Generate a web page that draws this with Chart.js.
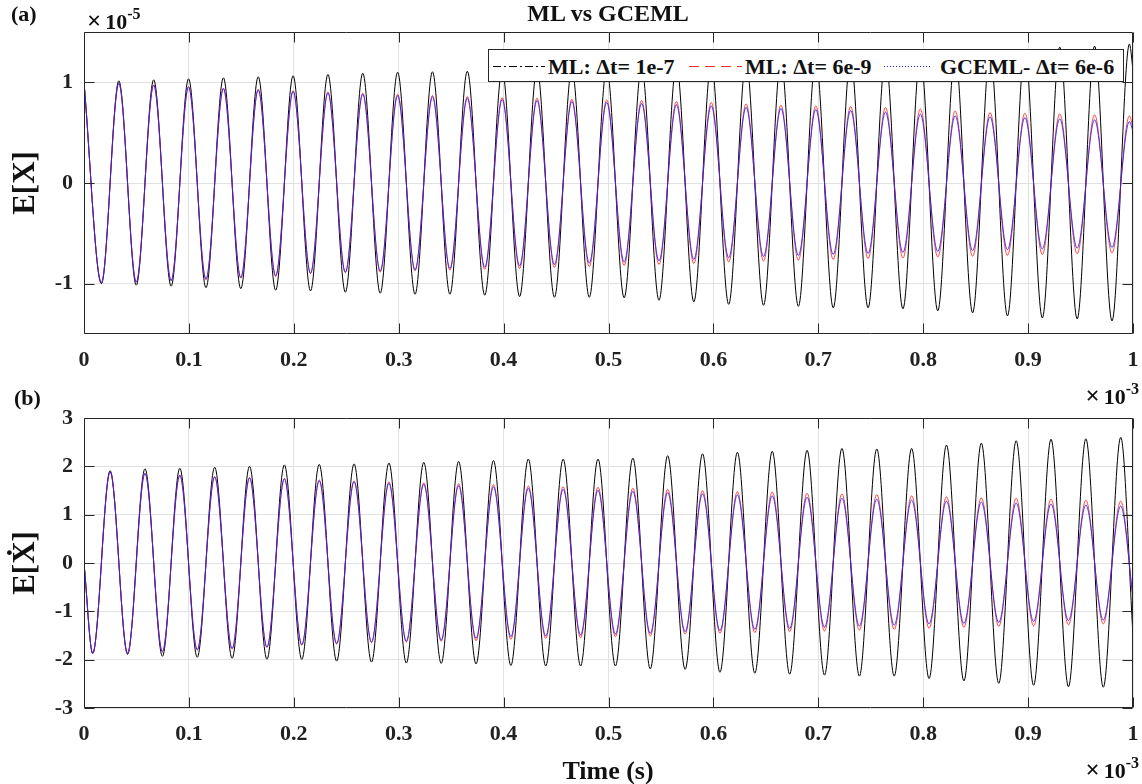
<!DOCTYPE html>
<html><head><meta charset="utf-8">
<script src="https://cdn.jsdelivr.net/npm/chart.js@4.4.1/dist/chart.umd.min.js"></script>
<style>
html,body{margin:0;padding:0;background:#fff;}
#wrap{position:relative;width:1142px;height:784px;overflow:hidden;font-family:"Liberation Serif","Times New Roman",serif;font-weight:bold;color:#111;}
canvas{position:absolute;left:0;}
.t{position:absolute;white-space:nowrap;line-height:1;}
.sup{font-size:16px;position:relative;top:-10px;}
.x{margin-right:4px;font-size:25px;}
#legend{position:absolute;left:488px;top:49px;width:634px;height:31px;border:1px solid #262626;background:#fff;}
#legend svg{position:absolute;top:0;}
</style></head><body><div id="wrap">
<canvas id="ca" width="1142" height="380" style="top:0"></canvas>
<canvas id="cb" width="1142" height="404" style="top:380px"></canvas>
<div class="t" style="left:608px;top:1px;font-size:24px;transform:translateX(-50%)">ML vs GCEML</div>
<div class="t" style="left:11px;top:3px;font-size:22px">(a)</div>
<div class="t" style="left:87px;top:8px;font-size:22px"><span class="x">×</span>10<span class="sup">-5</span></div>
<div class="t" style="left:23px;top:183px;font-size:31px;transform:translate(-50%,-50%) rotate(-90deg)">E[X]</div>
<div class="t" style="right:3px;top:383px;font-size:22px"><span class="x">×</span>10<span class="sup">-3</span></div>
<div class="t" style="left:14px;top:387px;font-size:22px">(b)</div>
<div class="t" style="left:23px;top:563px;font-size:31px;transform:translate(-50%,-50%) rotate(-90deg)">E[Ẋ]</div>
<div class="t" style="right:3px;top:757px;font-size:22px"><span class="x">×</span>10<span class="sup">-3</span></div>
<div class="t" style="left:608px;top:758px;font-size:26px;transform:translateX(-50%)">Time (s)</div>
<div id="legend">
  <svg style="left:4px" width="52" height="31"><line x1="0" y1="16.5" x2="52" y2="16.5" stroke="#000" stroke-width="1" stroke-dasharray="8,3,2,3"/></svg>
  <div class="t" style="left:59px;top:6px;font-size:22px">ML: Δt= 1e-7</div>
  <svg style="left:200px" width="53" height="31"><line x1="0" y1="16.5" x2="53" y2="16.5" stroke="#ff3030" stroke-width="1" stroke-dasharray="10,6"/></svg>
  <div class="t" style="left:256px;top:6px;font-size:22px">ML: Δt= 6e-9</div>
  <svg style="left:395px" width="48" height="31"><line x1="0" y1="16.5" x2="48" y2="16.5" stroke="#2020ff" stroke-width="1" stroke-dasharray="1,2"/></svg>
  <div class="t" style="left:451px;top:6px;font-size:22px">GCEML- Δt= 6e-6</div>
</div>
</div>
<script>
// ---- data ----
// x axis in units of 1e-3 s; extrema spaced by half a period (30 cycles over ~0.997e-3 s)
const HALF_PERIOD = 0.01661;
const xTicks = [0,0.1,0.2,0.3,0.4,0.5,0.6,0.7,0.8,0.9,1];
const xTickLabels = ['0','0.1','0.2','0.3','0.4','0.5','0.6','0.7','0.8','0.9','1'];
const yTicksA = [-1,0,1];
const yTickLabelsA = ['-1','0','1'];
const yTicksB = [-3,-2,-1,0,1,2,3];
const yTickLabelsB = ['-3','-2','-1','0','1','2','3'];

// Panel (a): E[X] (x1e-5), peaks at even half-periods, troughs at odd ones
const aBlackPeaks = [1.0,1.015,1.025,1.035,1.045,1.055,1.065,1.078,1.09,1.10,1.105,1.11,1.12,1.132,1.135,1.138,1.152,1.172,1.192,1.21,1.22,1.232,1.24,1.245,1.26,1.28,1.305,1.33,1.35,1.36,1.38];
const aBlackTroughs = [-1.0,-1.015,-1.025,-1.04,-1.05,-1.065,-1.072,-1.085,-1.095,-1.105,-1.105,-1.115,-1.128,-1.135,-1.135,-1.14,-1.165,-1.18,-1.205,-1.215,-1.225,-1.24,-1.24,-1.25,-1.27,-1.29,-1.32,-1.34,-1.35,-1.37];
const aRedPeaks = [1.0,0.99,0.975,0.958,0.942,0.932,0.918,0.905,0.893,0.882,0.87,0.86,0.849,0.843,0.833,0.826,0.82,0.81,0.80,0.786,0.773,0.766,0.76,0.75,0.735,0.716,0.70,0.693,0.687,0.677,0.667];
const aRedTroughs = [-0.99,-0.985,-0.97,-0.96,-0.945,-0.93,-0.90,-0.892,-0.885,-0.873,-0.866,-0.858,-0.849,-0.839,-0.83,-0.82,-0.81,-0.80,-0.785,-0.775,-0.767,-0.76,-0.75,-0.745,-0.735,-0.727,-0.718,-0.71,-0.703,-0.695];
const aBluePeaks = [1.0,0.99,0.972,0.955,0.937,0.925,0.91,0.895,0.882,0.868,0.855,0.843,0.83,0.82,0.81,0.80,0.79,0.778,0.766,0.752,0.74,0.73,0.72,0.705,0.684,0.667,0.657,0.65,0.637,0.627,0.61];
const aBlueTroughs = [-0.99,-0.985,-0.97,-0.955,-0.94,-0.92,-0.895,-0.885,-0.876,-0.863,-0.85,-0.836,-0.823,-0.809,-0.795,-0.785,-0.773,-0.76,-0.743,-0.73,-0.72,-0.71,-0.70,-0.69,-0.68,-0.672,-0.663,-0.655,-0.647,-0.64];
const aEnd = {black:1.12, red:0.55, blue:0.51};

// Panel (b): E[Xdot], starts at 0, troughs then peaks at (j+0.5) half-periods
const bBlackTroughs = [-1.87,-1.89,-1.93,-1.95,-1.97,-1.99,-1.994,-2.03,-2.05,-2.07,-2.077,-2.09,-2.12,-2.13,-2.13,-2.13,-2.19,-2.2,-2.26,-2.28,-2.30,-2.32,-2.34,-2.34,-2.39,-2.44,-2.49,-2.53,-2.56,-2.57];
const bBlackPeaks = [1.91,1.95,1.96,1.98,2.00,2.03,2.04,2.05,2.07,2.08,2.10,2.12,2.15,2.15,2.15,2.17,2.22,2.26,2.29,2.31,2.33,2.37,2.36,2.37,2.44,2.48,2.53,2.56,2.57,2.60];
const bRedTroughs = [-1.87,-1.87,-1.84,-1.80,-1.78,-1.75,-1.70,-1.677,-1.65,-1.635,-1.62,-1.608,-1.58,-1.56,-1.546,-1.525,-1.51,-1.47,-1.455,-1.44,-1.42,-1.408,-1.387,-1.373,-1.35,-1.33,-1.31,-1.30,-1.28,-1.26];
const bRedPeaks = [1.89,1.86,1.82,1.79,1.77,1.75,1.72,1.70,1.68,1.66,1.64,1.62,1.594,1.58,1.567,1.546,1.525,1.497,1.476,1.47,1.443,1.43,1.414,1.39,1.37,1.35,1.34,1.32,1.30,1.28];
const bBlueTroughs = [-1.87,-1.865,-1.835,-1.795,-1.77,-1.74,-1.69,-1.665,-1.635,-1.62,-1.594,-1.56,-1.525,-1.51,-1.49,-1.47,-1.455,-1.42,-1.40,-1.373,-1.353,-1.33,-1.304,-1.284,-1.26,-1.25,-1.23,-1.21,-1.19,-1.18];
const bBluePeaks = [1.89,1.855,1.815,1.78,1.76,1.74,1.70,1.68,1.65,1.63,1.60,1.575,1.546,1.525,1.505,1.484,1.455,1.43,1.408,1.387,1.36,1.34,1.32,1.30,1.28,1.26,1.24,1.22,1.20,1.18];
const bEnd = {black:-1.5, red:-0.76, blue:-0.7};

const seriesNames = ['ML: Δt= 1e-7','ML: Δt= 6e-9','GCEML- Δt= 6e-6'];
const colors = {black:'#000000', red:'rgba(255,40,40,0.85)', blue:'rgba(30,30,255,0.85)'};

// ---- assemble point lists (extrema; the library's monotone curve joins them) ----
function panelA(peaks, troughs, endVal){
  const pts = [];
  for (let k = 0; k < peaks.length; k++){
    pts.push({x: 2*k*HALF_PERIOD, y: peaks[k]});
    if (k < troughs.length) pts.push({x: (2*k+1)*HALF_PERIOD, y: troughs[k]});
  }
  pts.push({x: 1, y: endVal});
  return pts;
}
function panelB(troughs, peaks, endVal){
  const pts = [{x:0, y:0}];
  for (let k = 0; k < troughs.length; k++){
    pts.push({x: (2*k+0.5)*HALF_PERIOD, y: troughs[k]});
    pts.push({x: (2*k+1.5)*HALF_PERIOD, y: peaks[k]});
  }
  pts.push({x: 1, y: endVal});
  return pts;
}

const framePlugin = {
  id:'frame',
  afterDatasetsDraw(chart){
    const {ctx, chartArea:a, scales:{x, y}} = chart;
    ctx.save();
    ctx.strokeStyle = '#262626'; ctx.lineWidth = 1;
    const L = Math.round(a.left)+0.5, R = Math.round(a.right)-0.5, T = Math.round(a.top)+0.5, B = Math.round(a.bottom)-0.5;
    ctx.beginPath();
    ctx.rect(L, T, R-L, B-T);
    x.ticks.forEach(t => {
      const p = Math.round(x.getPixelForValue(t.value))+0.5;
      ctx.moveTo(p, B); ctx.lineTo(p, B-10);
      ctx.moveTo(p, T); ctx.lineTo(p, T+10);
    });
    y.ticks.forEach(t => {
      const p = Math.round(y.getPixelForValue(t.value))+0.5;
      ctx.moveTo(L, p); ctx.lineTo(L+10, p);
      ctx.moveTo(R, p); ctx.lineTo(R-10, p);
    });
    ctx.stroke();
    ctx.restore();
  }
};

const tickFont = {family:'"Liberation Serif", serif', size:22, weight:'bold'};

function makeChart(id, datasets, yTicks, yLabels, yMin, yMax, padTop, xScaleH){
  return new Chart(document.getElementById(id), {
    type:'line',
    data:{datasets},
    options:{
      responsive:false, animation:false, devicePixelRatio:1,
      parsing:false, normalized:true,
      layout:{padding:{left:0, right:9, top:padTop, bottom:0}},
      plugins:{legend:{display:false}, tooltip:{enabled:false}, title:{display:false}},
      elements:{point:{radius:0}, line:{borderWidth:1, cubicInterpolationMode:'monotone'}},
      scales:{
        x:{type:'linear', min:0, max:1,
          afterBuildTicks:s => { s.ticks = xTicks.map(v => ({value:v})); },
          afterFit:s => { s.height = xScaleH; s.paddingLeft = 0; s.paddingRight = 0; },
          ticks:{callback:(v,i) => xTickLabels[i], autoSkip:false, maxRotation:0, minRotation:0, padding:13, font:tickFont, color:'#222'},
          grid:{color:'#e2e2e2', drawTicks:false}, border:{display:false}},
        y:{type:'linear', min:yMin, max:yMax,
          afterBuildTicks:s => { s.ticks = yTicks.map(v => ({value:v})); },
          afterFit:s => { s.width = 84; s.paddingTop = 0; s.paddingBottom = 0; },
          ticks:{callback:(v,i) => yLabels[i], padding:11, font:tickFont, color:'#222'},
          grid:{color:'#e2e2e2', drawTicks:false}, border:{display:false}}
      }
    },
    plugins:[framePlugin]
  });
}

makeChart('ca', [
  {label:seriesNames[0], data:panelA(aBlackPeaks, aBlackTroughs, aEnd.black), borderColor:colors.black, order:2},
  {label:seriesNames[1], data:panelA(aRedPeaks, aRedTroughs, aEnd.red), borderColor:colors.red, order:1},
  {label:seriesNames[2], data:panelA(aBluePeaks, aBlueTroughs, aEnd.blue), borderColor:colors.blue, order:0}
], yTicksA, yTickLabelsA, -1.5, 1.5, 32, 46);

makeChart('cb', [
  {label:seriesNames[0], data:panelB(bBlackTroughs, bBlackPeaks, bEnd.black), borderColor:colors.black, order:2},
  {label:seriesNames[1], data:panelB(bRedTroughs, bRedPeaks, bEnd.red), borderColor:colors.red, order:1},
  {label:seriesNames[2], data:panelB(bBlueTroughs, bBluePeaks, bEnd.blue), borderColor:colors.blue, order:0}
], yTicksB, yTickLabelsB, -3, 3, 38, 76);
</script>
</body></html>
